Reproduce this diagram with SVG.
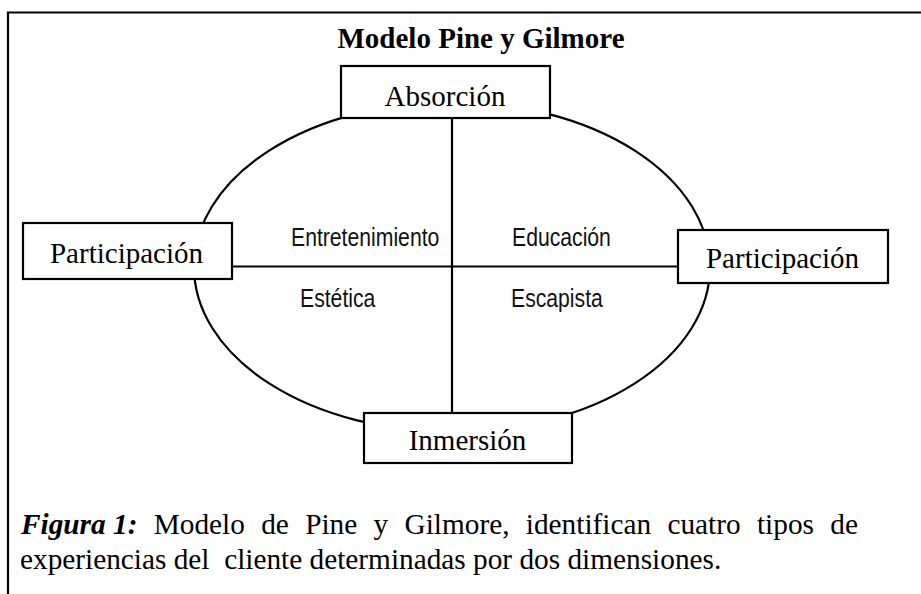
<svg xmlns="http://www.w3.org/2000/svg" width="921" height="594" viewBox="0 0 921 594">
<style>
.box{fill:#fff;stroke:#000;stroke-width:2.2}
.ln{fill:none;stroke:#000;stroke-width:2.2}
.tr{font-family:"Liberation Serif","Times New Roman",serif;fill:#000}
.ar{font-family:"Liberation Sans",Arial,sans-serif;font-size:26px;fill:#111}
.lbl{font-size:29px;text-anchor:middle}
</style>
<rect width="921" height="594" fill="#fff"/>
<g id="frame">
<path class="ln" d="M8,594 V12.5 H921" stroke-width="2.5"/>
</g>
<g id="title"><text class="tr" x="481" y="48" font-size="29" font-weight="bold" text-anchor="middle">Modelo Pine y Gilmore</text></g>
<g id="connectors">
<ellipse class="ln" cx="452" cy="267" rx="258" ry="165"/>
<line class="ln" x1="452" y1="118" x2="452" y2="413"/>
<line class="ln" x1="232" y1="266.5" x2="678" y2="266.5"/>
</g>
<g id="absorcion"><rect class="box" x="341" y="66" width="209" height="52"/><text class="tr lbl" x="445" y="106">Absorción</text></g>
<g id="participacion-left"><rect class="box" x="23" y="223" width="209" height="56"/><text class="tr lbl" x="126.5" y="263">Participación</text></g>
<g id="participacion-right"><rect class="box" x="678" y="230" width="210" height="53"/><text class="tr lbl" x="782.5" y="268">Participación</text></g>
<g id="inmersion"><rect class="box" x="364" y="413" width="208" height="50"/><text class="tr lbl" x="467.5" y="450">Inmersión</text></g>
<g id="quadrants">
<text class="ar" transform="translate(291,246) scale(0.815,1)">Entretenimiento</text>
<text class="ar" transform="translate(512,246) scale(0.815,1)">Educación</text>
<text class="ar" transform="translate(300,307) scale(0.815,1)">Estética</text>
<text class="ar" transform="translate(511,307) scale(0.815,1)">Escapista</text>
</g>
<g id="caption" class="tr" font-size="29.3">
<text x="21" y="534" word-spacing="9"><tspan font-weight="bold" font-style="italic" word-spacing="0">Figura 1:</tspan> Modelo de Pine y Gilmore, identifican cuatro tipos de</text>
<text x="20" y="569" xml:space="preserve">experiencias del  cliente determinadas por dos dimensiones.</text>
</g>
</svg>
